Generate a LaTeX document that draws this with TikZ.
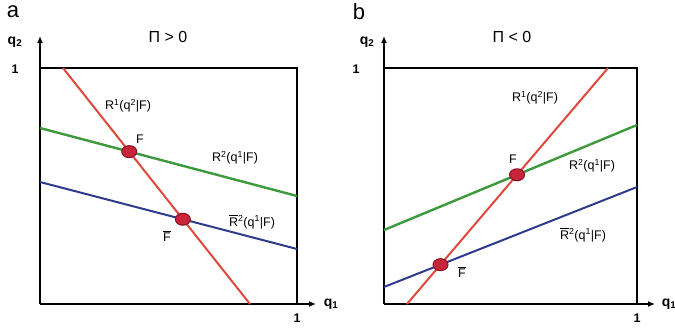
\documentclass[tikz,border=0pt]{standalone}
\usepackage{fontspec}
\setmainfont{Liberation Sans}
\usetikzlibrary{arrows.meta,shapes.geometric}
\definecolor{rline}{HTML}{DD4A3C}
\definecolor{gline}{HTML}{3C9A3C}
\definecolor{bline}{HTML}{2E3A8C}
\definecolor{dotfill}{HTML}{C8243A}
\definecolor{dotdraw}{HTML}{8A1024}
\newcommand\topbar[1]{\leavevmode\vbox{\hrule height 0.9pt\kern1.2pt\hbox{#1}}}
\tikzset{
  axis/.style={line width=2.2pt, -{Latex[length=7pt,width=6pt]}},
  frame/.style={line width=2pt},
  redl/.style={rline, line width=2pt},
  greenl/.style={gline, line width=2.4pt},
  bluel/.style={bline, line width=2pt},
  eq/.style={ellipse, minimum width=15pt, minimum height=12pt, inner sep=0pt, fill=dotfill, draw=dotdraw, line width=1pt},
  lab/.style={font=\fontsize{12.5}{13}\selectfont, inner sep=1pt},
  axlab/.style={font=\fontsize{14}{15}\selectfont\bfseries, inner sep=1pt},
  onelab/.style={font=\fontsize{12.5}{13}\selectfont\bfseries, inner sep=1pt},
  panel/.style={font=\fontsize{22}{23}\selectfont, inner sep=1pt},
  ttl/.style={font=\fontsize{16}{17}\selectfont, inner sep=1pt}
}
\begin{document}
\begin{tikzpicture}[x=1pt,y=-1pt]
\useasboundingbox (0,0) rectangle (675,327);
% ---------- panel a ----------
\coordinate (oa) at (40,304);
\coordinate (ya) at (40,36);
\coordinate (xa) at (316,304);
\coordinate (tla) at (40,68);
\coordinate (tra) at (297,68);
\coordinate (bra) at (297,304);
\draw[frame] (tla) -- (tra) -- (bra);
\draw[axis] (oa) -- (ya);
\draw[axis] (oa) -- (xa);
\coordinate (ra1) at (63,68);
\coordinate (ra2) at (250,304);
\coordinate (ga1) at (40,128);
\coordinate (ga2) at (297,196);
\coordinate (ba1) at (40,182);
\coordinate (ba2) at (297,249);
\draw[greenl] (ga1) -- (ga2);
\draw[bluel] (ba1) -- (ba2);
\draw[redl] (ra1) -- (ra2);
\node[eq] (Fa) at (intersection of ra1--ra2 and ga1--ga2) {};
\node[eq] (Fba) at (intersection of ra1--ra2 and ba1--ba2) {};
\node[panel] (pa) at (13,12) {a};
\node[axlab] (q2a) at (15,42) {q\textsubscript{2}};
\node[onelab] (onea) at (15,69) {1};
\node[ttl] (tta) at (168,37) {Π > 0};
\node[axlab] (q1a) at (331,304) {q\textsubscript{1}};
\node[onelab] (oneb1) at (297,318) {1};
\node[lab] (F1) at (140,139) {F};
\node[lab] (F2) at (167,236) {\topbar{F}};
\node[lab] (R1a) at (128,106) {R\textsuperscript{1}(q\textsuperscript{2}|F)};
\node[lab] (R2a) at (235,158) {R\textsuperscript{2}(q\textsuperscript{1}|F)};
\node[lab] (Rb2a) at (252,222) {\topbar{R}\textsuperscript{2}(q\textsuperscript{1}|F)};
% ---------- panel b ----------
\coordinate (ob) at (384,304);
\coordinate (yb) at (384,36);
\coordinate (xb) at (655,304);
\coordinate (tlb) at (384,68);
\coordinate (trb) at (637,68);
\coordinate (brb) at (637,304);
\draw[frame] (tlb) -- (trb) -- (brb);
\draw[axis] (ob) -- (yb);
\draw[axis] (ob) -- (xb);
\coordinate (rb1) at (407,304);
\coordinate (rb2) at (608,68);
\coordinate (gb1) at (384,230);
\coordinate (gb2) at (637,125);
\coordinate (bb1) at (384,287);
\coordinate (bb2) at (637,187);
\draw[greenl] (gb1) -- (gb2);
\draw[bluel] (bb1) -- (bb2);
\draw[redl] (rb1) -- (rb2);
\node[eq] (Fb) at (intersection of rb1--rb2 and gb1--gb2) {};
\node[eq] (Fbb) at (intersection of rb1--rb2 and bb1--bb2) {};
\node[panel] (pb) at (359,12) {b};
\node[axlab] (q2b) at (367,42) {q\textsubscript{2}};
\node[onelab] (oneb) at (356,69) {1};
\node[ttl] (ttb) at (512,37) {Π < 0};
\node[axlab] (q1b) at (669,304) {q\textsubscript{1}};
\node[onelab] (oneb2) at (637,318) {1};
\node[lab] (F3) at (513,159) {F};
\node[lab] (F4) at (462,272) {\topbar{F}};
\node[lab] (R1b) at (535,98) {R\textsuperscript{1}(q\textsuperscript{2}|F)};
\node[lab] (R2b) at (592,166) {R\textsuperscript{2}(q\textsuperscript{1}|F)};
\node[lab] (Rb2b) at (583,235) {\topbar{R}\textsuperscript{2}(q\textsuperscript{1}|F)};
\end{tikzpicture}
\end{document}
